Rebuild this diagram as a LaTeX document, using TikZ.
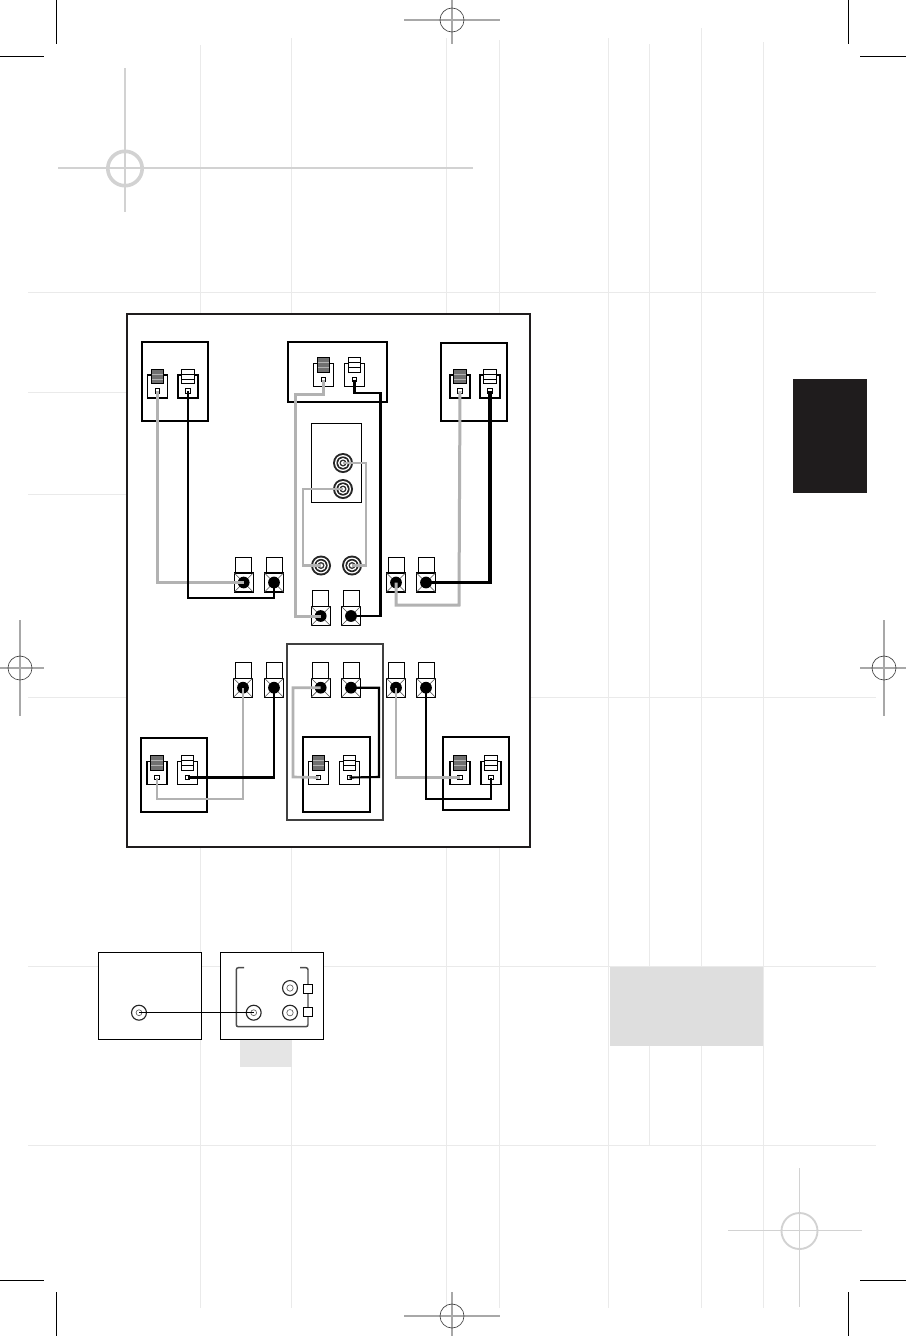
\documentclass[tikz,border=0pt]{standalone}
\definecolor{guide}{HTML}{EAEAEA}
\definecolor{regline}{HTML}{A8A8A8}
\definecolor{softreg}{HTML}{D2D2D2}
\definecolor{wiregray}{HTML}{B2B2B2}
\definecolor{framedark}{HTML}{1F1C1D}
\definecolor{stackdark}{HTML}{707070}
\tikzset{
  x=0.75pt, y=-0.75pt,
  every node/.style={inner sep=0pt, outer sep=0pt},
  guideline/.style={draw=guide, line width=0.75pt},
  cornermark/.style={draw=black, line width=0.75pt},
  regmark/.style={draw=regline, line width=0.8pt},
  regcircle/.style={draw=black!75, line width=0.5pt},
  softmark/.style={draw=softreg, line width=1.1pt},
  framebox/.style={draw=framedark, fill=white, line width=1.5pt},
  spkbox/.style={draw=black, fill=white, line width=1.5pt},
  outerbox/.style={draw=black!75, fill=white, line width=1.5pt},
  thinbox/.style={draw=black, fill=white, line width=0.75pt},
  termbox/.style={draw=black, fill=white, line width=0.85pt, minimum width=15pt, minimum height=17.25pt},
  stackbox/.style={draw=black, line width=0.7pt, minimum width=9.4pt, minimum height=10.9pt},
  pinbox/.style={draw=black, fill=white, line width=0.7pt, minimum width=3.6pt, minimum height=3.6pt},
  capbox/.style={draw=black, fill=white, line width=0.65pt, minimum width=12pt, minimum height=11.6pt},
  postbox/.style={draw=black, fill=white, line width=1pt, minimum width=14.2pt, minimum height=14.2pt},
  ball/.style={circle, fill=black, minimum size=8.8pt},
  graywire/.style={draw=wiregray, line width=2.25pt, line join=miter},
  blackwire/.style={draw=black, line width=2.2pt, line join=miter},
  finewire/.style={draw=black, line width=0.75pt},
  bracketline/.style={draw=black!70, line width=1.1pt, rounded corners=1.5pt},
  jackring/.style={circle, draw=black!85, fill=white, line width=0.85pt, minimum size=11.2pt},
  jackcore/.style={circle, draw=black!60, fill=white, line width=0.5pt, minimum size=4.4pt},
  smallsq/.style={draw=black, fill=white, line width=0.75pt, minimum size=7pt},
}
% speaker terminal: name, x, y of box centre, stack fill, stripe colour
\newcommand{\spkterm}[5]{%
  \node[termbox] (#1box) at (#2,#3) {};
  \node[stackbox, fill=#4] (#1st) at (#2,#3-10) {};
  \draw[line width=0.5pt, draw=#5] (#2-5.7,#3-12.6) -- (#2+5.7,#3-12.6)
     (#2-5.7,#3-7.4) -- (#2+5.7,#3-7.4);
  \node[pinbox] (#1) at (#2,#3+4.5) {};
}
% binding post: name, x, y of ball centre
\newcommand{\bindpost}[3]{%
  \node[capbox] (#1cap) at (#2,#3-17.5) {};
  \node[postbox] (#1box) at (#2,#3) {};
  \draw[line width=0.45pt, draw=black!70] (#1box.north west) -- (#1box.south east)
     (#1box.north east) -- (#1box.south west);
  \node[ball] (#1) at (#2,#3) {};
}
% ringed RCA jack
\newcommand{\rcajack}[3]{%
  \fill[black!85] (#2,#3) circle[radius=10];
  \fill[white] (#2,#3) circle[radius=8];
  \fill[black!85] (#2,#3) circle[radius=6.6];
  \fill[white] (#2,#3) circle[radius=5];
  \fill[black!80] (#2,#3) circle[radius=3.5];
  \fill[white] (#2,#3) circle[radius=2];
  \coordinate (#1) at (#2,#3);
}
\newcommand{\regcross}[7]{% cx cy r hfrom hto vfrom vto
  \draw[regmark] (#4,#2) -- (#5,#2);
  \draw[regmark] (#1,#6) -- (#1,#7);
  \draw[regcircle] (#1,#2) circle[radius=#3];
}
\begin{document}
\begin{tikzpicture}
\useasboundingbox (0,0) rectangle (906,1336);
\fill[white] (0,0) rectangle (906,1336);
% layout guides
\foreach \gx/\ga/\gb in {200/45/1308,291/38/1308,446.5/38/1308,499.5/40/1308,608/38/1308,649/44/1145,701/28/1308,763/42/1308}
  \draw[guideline] (\gx,\ga) -- (\gx,\gb);
\foreach \gy in {292,697,966,1145}
  \draw[guideline] (28,\gy) -- (876,\gy);
\foreach \gy in {392,494}
  \draw[guideline] (28,\gy) -- (127,\gy);
% corner marks
\draw[cornermark] (56.5,0) -- (56.5,44) (0,56.5) -- (44,56.5);
\draw[cornermark] (848.5,0) -- (848.5,44) (860,56.5) -- (906,56.5);
\draw[cornermark] (56.5,1292) -- (56.5,1336) (0,1280) -- (44,1280);
\draw[cornermark] (848.5,1292) -- (848.5,1336) (860,1280) -- (906,1280);
% registration marks
\regcross{452}{20}{12}{404}{500}{0}{44}
\regcross{452}{1316}{12}{404}{500}{1292}{1336}
\regcross{20}{668}{12}{0}{44}{620}{716}
\regcross{884}{668}{12}{860}{906}{620}{716}
\draw[softmark, line width=1.5pt] (58,168) -- (473,168) (125,68) -- (125,212);
\draw[draw=softreg, line width=2.7pt] (125,168.5) circle[radius=17.2];
\draw[softmark] (728,1230.5) -- (862,1230.5) (799.5,1168) -- (799.5,1307);
\draw[draw=softreg, line width=1.4pt] (799.5,1231) circle[radius=18];
% grey panels and tab
\fill[black!13] (610,966.5) rectangle (763,1045.5);
\fill[framedark] (793,379) rectangle (867,493);
\fill[black!10] (240,1039) rectangle (291.5,1067);
% main frame
\draw[framebox] (127,314) rectangle (530,847);
% speaker enclosures
\draw[spkbox] (142,342) rectangle (208,421);
\draw[spkbox] (288,342) rectangle (387,402);
\draw[spkbox, line width=1.1pt] (441,343) rectangle (507,421);
\draw[spkbox] (141,738) rectangle (207,812);
\draw[outerbox] (287,644) rectangle (383,820);
\draw[spkbox] (303,737) rectangle (370,812);
\draw[spkbox] (443,737) rectangle (509,810);
\draw[thinbox] (311,423) rectangle (361,502);
% speaker terminals
\spkterm{flm}{157.5}{386.5}{stackdark}{black!30}
\spkterm{flp}{188}{386.5}{white}{black}
\spkterm{cem}{323.5}{375}{stackdark}{black!30}
\spkterm{cep}{354.5}{375}{white}{black}
\spkterm{frm}{460}{386.5}{stackdark}{black!30}
\spkterm{frp}{490}{386.5}{white}{black}
\spkterm{slm}{157}{773}{stackdark}{black!30}
\spkterm{slp}{187.5}{773}{white}{black}
\spkterm{scm}{318.5}{773}{stackdark}{black!30}
\spkterm{scp}{349.5}{773}{white}{black}
\spkterm{srm}{460}{773}{stackdark}{black!30}
\spkterm{srp}{491}{773}{white}{black}
% binding posts
\bindpost{ra}{243.7}{582.5}
\bindpost{rb}{274}{582.5}
\bindpost{rc}{396}{582.5}
\bindpost{rd}{426}{582.5}
\bindpost{ma}{320.7}{616}
\bindpost{mb}{351}{616}
\bindpost{la}{243}{687.7}
\bindpost{lb}{274}{687.7}
\bindpost{lc}{320.7}{687.7}
\bindpost{ld}{351}{687.7}
\bindpost{le}{396}{687.7}
\bindpost{lf}{426}{687.7}
% RCA jacks
\rcajack{ja}{343}{463}
\rcajack{jb}{343}{489}
\rcajack{jc}{321}{565.5}
\rcajack{jd}{352}{565.5}
% routing points
\coordinate (k1) at (188,598);
\coordinate (k2) at (323.5,394);
\coordinate (k3) at (295,394);
\coordinate (k4) at (354.5,393);
\coordinate (k5) at (380.5,393);
\coordinate (k6) at (303,489);
\coordinate (k7) at (366,463);
\coordinate (k8) at (459,605);
\coordinate (k9) at (157,799);
\coordinate (k10) at (293,777);
\coordinate (k11) at (379,777);
\coordinate (k12) at (426,799);
% wires
\draw[graywire] (flm.center) |- (ra.center);
\draw[blackwire, line width=2pt] (flp.center) -- (k1) -| (rb.center);
\draw[graywire] (cem.center) -- (k2) -- (k3) |- (ma.center);
\draw[blackwire] (cep.center) -- (k4) -- (k5) |- (mb.center);
\draw[graywire, line width=2pt] (jb) -- (k6) |- (jc);
\draw[graywire, line width=2pt] (ja) -- (k7) |- (jd);
\draw[graywire] (frm.center) -- (k8) -| (rc.center);
\draw[blackwire, line width=2.5pt] (frp.center) |- (rd.center);
\draw[graywire, line width=2pt] (slm.center) -- (k9) -| (la.center);
\draw[blackwire, line width=1.7pt] (slp.center) -| (lb.center);
\draw[graywire, line width=2pt] (scm.center) -- (k10) |- (lc.center);
\draw[blackwire, line width=1.6pt] (scp.center) -- (k11) |- (ld.center);
\draw[graywire, line width=2pt] (le.center) |- (srm.center);
\draw[blackwire, line width=1.7pt] (lf.center) -- (k12) -| (srp.center);
% lower connection panels
\draw[thinbox, line width=1pt] (98.3,952.7) rectangle (201.7,1039.3);
\draw[thinbox, line width=1pt] (220.3,952.7) rectangle (323.5,1039.3);
\draw[bracketline] (244,967.7) -- (236.3,967.7) -- (236.3,1026.7) -- (308,1026.7) -- (308,967.7) -- (300,967.7);
\node[smallsq] (sa) at (308,989) {};
\node[smallsq] (sb) at (308,1012.3) {};
\node[jackring] (pa) at (139,1012.7) {};
\node[jackcore] (pacore) at (139,1012.7) {};
\node[jackring] (pb) at (253.7,1012.7) {};
\node[jackcore] (pbcore) at (253.7,1012.7) {};
\node[jackring] (pc) at (290,1012.7) {};
\node[jackcore, minimum size=4.8pt] (pccore) at (290,1012.7) {};
\node[jackring] (pd) at (290,988) {};
\node[jackcore, minimum size=4.8pt] (pdcore) at (290,988) {};
\draw[finewire] (pa.center) -- (pb.center);
\end{tikzpicture}
\end{document}
